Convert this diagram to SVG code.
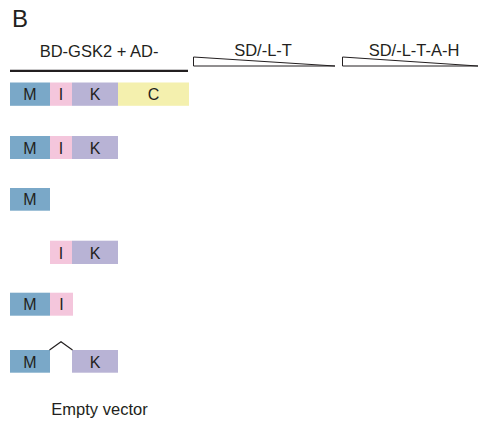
<svg xmlns="http://www.w3.org/2000/svg" width="482" height="423" viewBox="0 0 482 423">
<style>
text{font-family:"Liberation Sans",Arial,sans-serif;fill:#231f20}
.hd{font-size:16.5px;text-anchor:middle}
.lb{font-size:16px;text-anchor:middle}
.m{fill:#7aa8c8}.i{fill:#f4c6dc}.k{fill:#b8b3d5}.c{fill:#f4f0ae}
.w{fill:#fff;stroke:#231f20;stroke-width:1}
</style>
<rect width="482" height="423" fill="#fff"/>
<text x="12" y="26.7" style="font-size:24px">B</text>
<g id="header">
<text class="hd" x="99" y="56.5">BD-GSK2 + AD-</text>
<line x1="10" y1="70.8" x2="188" y2="70.8" stroke="#231f20" stroke-width="2.3"/>
<text class="hd" x="263" y="56">SD/-L-T</text>
<polygon class="w" points="193.5,57 335,66 193.5,66"/>
<text class="hd" x="414" y="56">SD/-L-T-A-H</text>
<polygon class="w" points="342.5,57 478,66 342.5,66"/>
</g>
<g id="row1">
<rect class="m" x="10" y="82.5" width="40" height="23.3"/><text class="lb" x="30" y="100.3">M</text>
<rect class="i" x="50" y="82.5" width="22" height="23.3"/><text class="lb" x="61" y="100.3">I</text>
<rect class="k" x="72" y="82.5" width="46" height="23.3"/><text class="lb" x="95" y="100.3">K</text>
<rect class="c" x="118" y="82.5" width="71" height="23.3"/><text class="lb" x="153.5" y="100.3">C</text>
</g>
<g id="row2">
<rect class="m" x="10" y="136" width="40" height="23"/><text class="lb" x="30" y="153.6">M</text>
<rect class="i" x="50" y="136" width="22" height="23"/><text class="lb" x="61" y="153.6">I</text>
<rect class="k" x="72" y="136" width="46" height="23"/><text class="lb" x="95" y="153.6">K</text>
</g>
<g id="row3">
<rect class="m" x="10" y="188" width="40" height="22.7"/><text class="lb" x="30" y="205.4">M</text>
</g>
<g id="row4">
<rect class="i" x="50" y="240.7" width="22" height="23.3"/><text class="lb" x="61" y="258.5">I</text>
<rect class="k" x="72" y="240.7" width="46" height="23.3"/><text class="lb" x="95" y="258.5">K</text>
</g>
<g id="row5">
<rect class="m" x="10" y="292.7" width="40" height="23"/><text class="lb" x="30" y="310.4">M</text>
<rect class="i" x="50" y="292.7" width="23" height="23"/><text class="lb" x="61.5" y="310.4">I</text>
</g>
<g id="row6">
<rect class="m" x="10" y="350" width="40" height="22.7"/><text class="lb" x="30" y="367.5">M</text>
<rect class="k" x="72" y="350" width="46" height="22.7"/><text class="lb" x="95" y="367.5">K</text>
</g>
<g id="connectors">
<polyline points="49.5,350 61,341.7 72.5,350" fill="none" stroke="#231f20" stroke-width="1.2"/>
</g>
<g id="empty">
<text class="hd" x="99.5" y="415.2">Empty vector</text>
</g>
</svg>
